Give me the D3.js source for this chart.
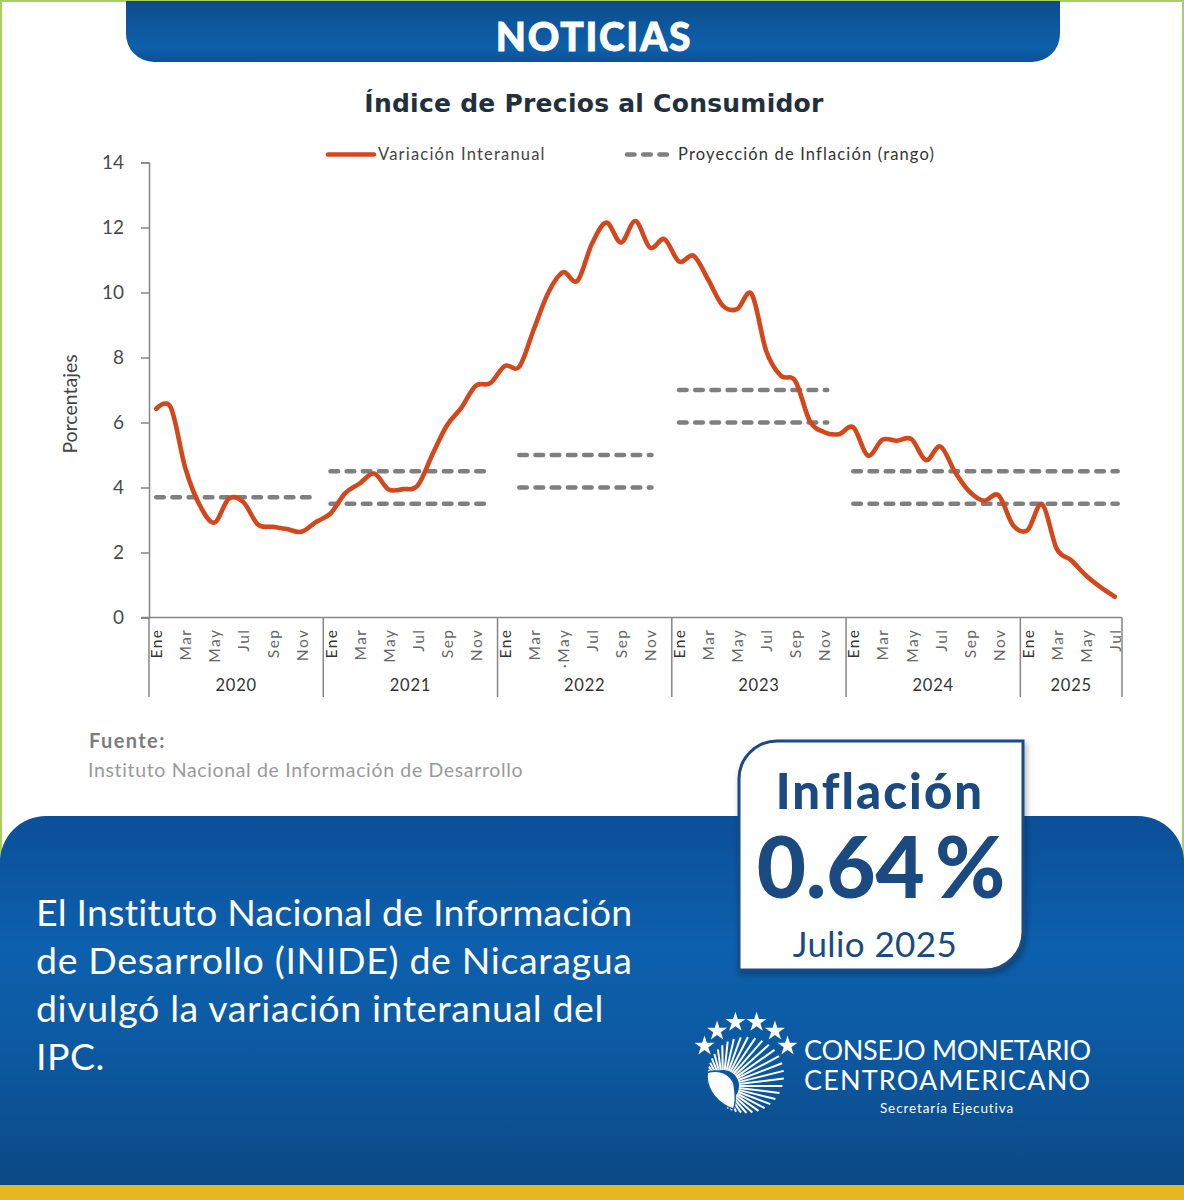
<!DOCTYPE html>
<html>
<head>
<meta charset="utf-8">
<title>Índice de Precios al Consumidor</title>
<script src="https://cdn.jsdelivr.net/npm/d3@7"></script>
<style>
	html, body { margin: 0; padding: 0; background: #fff; }
	svg { display: block; }
	text { font-family: Lato, "Open Sans", sans-serif; }
</style>
</head>
<body>
<div id="chart"></div>
<script>
// monthly values, Ene 2020 to Jul 2025
var values2020 = [6.42, 6.46, 4.6, 3.45, 2.92, 3.66, 3.55, 2.86, 2.79, 2.72, 2.64, 2.94];
var values2021 = [3.2, 3.82, 4.12, 4.43, 3.94, 3.95, 4.06, 5.0, 5.9, 6.45, 7.13, 7.21];
var values2022 = [7.74, 7.72, 8.87, 10.0, 10.62, 10.36, 11.5, 12.15, 11.54, 12.2, 11.38, 11.64];
var values2023 = [10.95, 11.13, 10.4, 9.6, 9.49, 9.95, 8.2, 7.44, 7.28, 6.05, 5.7, 5.64];
var values2024 = [5.85, 4.98, 5.47, 5.44, 5.49, 4.84, 5.26, 4.48, 3.87, 3.59, 3.76, 2.84];
var values2025 = [2.69, 3.49, 2.12, 1.76, 1.3, 0.94, 0.64];
var inflation = values2020.concat(values2021, values2022, values2023, values2024, values2025);

var years = ["2020", "2021", "2022", "2023", "2024", "2025"];
var yearStart = [0, 12, 24, 36, 48, 60, 67];
var monthLabels = ["Ene", "Mar", "May", "Jul", "Sep", "Nov"];
var yTicks = [0, 2, 4, 6, 8, 10, 12, 14];

// projection range segments: first month, last month, value
var projFrom = [0, 12, 12, 25, 25, 36, 36, 48, 48];
var projTo = [10.7, 22.8, 22.8, 34.1, 34.1, 46.2, 46.2, 66.2, 66.2];
var projValue = [3.7, 3.5, 4.5, 4, 5, 6, 7, 3.5, 4.5];

var bodyLines = ["El Instituto Nacional de Información", "de Desarrollo (INIDE) de Nicaragua", "divulgó la variación interanual del", "IPC."];

var width = 1184, height = 1200;
var orange = "#d2481c", grey = "#7f7f7f", axisGrey = "#868686", navy = "#1a4a80";

var svg = d3.select("#chart").append("svg")
	.attr("width", width)
	.attr("height", height);

var defs = svg.append("defs");

function gradient(id, stops) {
	var g = defs.append("linearGradient").attr("id", id)
		.attr("x1", 0).attr("x2", 0).attr("y1", 0).attr("y2", 1);
	stops.forEach(function(s) {
		g.append("stop").attr("offset", s[0]).attr("stop-color", s[1]);
	});
}
gradient("headBlue", [[0, "#0d4c8c"], [0.75, "#0d60ab"], [1, "#0b5199"]]);
gradient("panelBlue", [[0, "#0b4f98"], [0.35, "#0c60ad"], [0.6, "#0c5aa3"], [1, "#0c4985"]]);

var shadow = defs.append("filter").attr("id", "soft")
	.attr("x", "-10%").attr("y", "-10%").attr("width", "120%").attr("height", "120%");
shadow.append("feDropShadow").attr("dx", 2).attr("dy", 3).attr("stdDeviation", 3)
	.attr("flood-color", "#000").attr("flood-opacity", 0.3);

// page frame, green hairline
svg.append("path")
	.attr("d", "M1,970V1H1183V970")
	.attr("fill", "none")
	.attr("stroke", "#a9d05c")
	.attr("stroke-width", 2);

// header
svg.append("path")
	.attr("d", "M126,1H1060V34A28,28 0 0 1 1032,62H154A28,28 0 0 1 126,34Z")
	.attr("fill", "url(#headBlue)");
svg.append("text")
	.attr("x", 594).attr("y", 51)
	.attr("text-anchor", "middle")
	.attr("fill", "#fff")
	.attr("stroke", "#fff")
	.attr("stroke-width", 0.8)
	.attr("font-size", 39)
	.attr("font-weight", 900)
	.attr("letter-spacing", 1.7)
	.text("NOTICIAS");

// title
svg.append("text")
	.attr("x", 594).attr("y", 112)
	.attr("text-anchor", "middle")
	.attr("fill", "#22303e")
	.attr("font-size", 25)
	.attr("font-weight", 700)
	.attr("letter-spacing", 0.25)
	.style("font-family", "'DejaVu Sans', sans-serif")
	.text("Índice de Precios al Consumidor");

// scales
var x = d3.scaleLinear().domain([-0.5, 66.5]).range([149, 1122]);
var y = d3.scaleLinear().domain([0, 14]).range([617.5, 162.5]);

var yAxis = svg.append("g")
	.attr("transform", "translate(149,0)")
	.call(d3.axisLeft(y).tickValues(yTicks).tickSize(8).tickPadding(17).tickFormat(d3.format("d")));
yAxis.selectAll("path, line").attr("stroke", axisGrey).attr("stroke-width", 1.5);
yAxis.selectAll("text")
	.attr("fill", "#4a4a4a")
	.style("font-size", "19px")
	.style("font-family", "Lato, sans-serif");

svg.append("text")
	.attr("transform", "translate(77,404) rotate(-90)")
	.attr("text-anchor", "middle")
	.attr("fill", "#444")
	.attr("font-size", 19.5)
	.text("Porcentajes");

// x axis: a label every two months, years below
var monthTicks = d3.range(0, 67, 2);
var xAxis = svg.append("g")
	.attr("transform", "translate(0,617.5)")
	.call(d3.axisBottom(x).tickValues(monthTicks).tickSize(0).tickFormat(function(d) {
		return d == 28 ? "·May" : monthLabels[(d % 12) / 2];
	}));
xAxis.select("path").remove();
xAxis.selectAll("text")
	.attr("transform", "rotate(-90)")
	.attr("x", -11)
	.attr("y", 0)
	.attr("dy", "0.36em")
	.attr("text-anchor", "end")
	.attr("fill", function(d) { return d % 12 == 0 ? "#333" : "#666"; })
	.style("font-size", "15.5px")
	.style("font-family", "Lato, sans-serif")
	.style("letter-spacing", "1.5px");

svg.append("line")
	.attr("x1", 141).attr("x2", 1122)
	.attr("y1", 617.5).attr("y2", 617.5)
	.attr("stroke", axisGrey).attr("stroke-width", 1.5);

svg.selectAll(".divider")
	.data(yearStart)
	.enter().append("line")
	.attr("class", "divider")
	.attr("x1", function(d) { return x(d - 0.5); })
	.attr("x2", function(d) { return x(d - 0.5); })
	.attr("y1", 617.5)
	.attr("y2", 697)
	.attr("stroke", axisGrey)
	.attr("stroke-width", 1.5);

svg.selectAll(".year")
	.data(years)
	.enter().append("text")
	.attr("class", "year")
	.attr("x", function(d, i) { return (x(yearStart[i] - 0.5) + x(yearStart[i + 1] - 0.5)) / 2; })
	.attr("y", 691)
	.attr("text-anchor", "middle")
	.attr("fill", "#333")
	.attr("font-size", 16.5)
	.attr("letter-spacing", 0.8)
	.text(function(d) { return d; });

// projection segments go under the series
svg.selectAll(".proj")
	.data(projValue)
	.enter().append("line")
	.attr("class", "proj")
	.attr("x1", function(d, i) { return x(projFrom[i]); })
	.attr("x2", function(d, i) { return x(projTo[i]); })
	.attr("y1", function(d) { return y(d); })
	.attr("y2", function(d) { return y(d); })
	.attr("stroke", grey)
	.attr("stroke-width", 4.6)
	.attr("stroke-linecap", "round")
	.attr("stroke-dasharray", "7.5 8.7");

var line = d3.line()
	.x(function(d, i) { return x(i); })
	.y(function(d) { return y(d); })
	.curve(d3.curveCatmullRom.alpha(0));

svg.append("path")
	.datum(inflation)
	.attr("d", line)
	.attr("fill", "none")
	.attr("stroke", orange)
	.attr("stroke-width", 4.6)
	.attr("stroke-linecap", "round");

// legend
svg.append("line")
	.attr("x1", 328).attr("x2", 374).attr("y1", 154.5).attr("y2", 154.5)
	.attr("stroke", orange).attr("stroke-width", 4.6).attr("stroke-linecap", "round");
svg.append("text")
	.attr("x", 378).attr("y", 160)
	.attr("fill", "#444").attr("font-size", 16.5).attr("letter-spacing", 1.2)
	.text("Variación Interanual");
svg.append("line")
	.attr("x1", 627).attr("x2", 670).attr("y1", 154.5).attr("y2", 154.5)
	.attr("stroke", grey).attr("stroke-width", 4.6).attr("stroke-linecap", "round")
	.attr("stroke-dasharray", "7.5 8.7");
svg.append("text")
	.attr("x", 678).attr("y", 160)
	.attr("fill", "#333").attr("font-size", 16.5).attr("letter-spacing", 1.15)
	.text("Proyección de Inflación (rango)");

// source
svg.append("text")
	.attr("x", 89).attr("y", 748)
	.attr("fill", "#7d7d7d").attr("font-size", 20).attr("font-weight", 700).attr("letter-spacing", 1.4)
	.text("Fuente:");
svg.append("text")
	.attr("x", 88).attr("y", 777)
	.attr("fill", "#9a9a9a").attr("font-size", 19.5).attr("letter-spacing", 0.65)
	.text("Instituto Nacional de Información de Desarrollo");

// bottom panel and gold strip
svg.append("path")
	.attr("d", "M0,1186V862A46,46 0 0 1 46,816H1138A46,46 0 0 1 1184,862V1186Z")
	.attr("fill", "url(#panelBlue)");
svg.append("rect")
	.attr("x", 0).attr("y", 1185).attr("width", width).attr("height", 15)
	.attr("fill", "#e8b71f");

svg.selectAll(".body")
	.data(bodyLines)
	.enter().append("text")
	.attr("class", "body")
	.attr("x", 36)
	.attr("y", function(d, i) { return 926 + i * 48; })
	.attr("fill", "#fff")
	.attr("font-size", 37.5)
	.attr("letter-spacing", function(d, i) { return [0.22, 0.65, 0.62, 0.5][i]; })
	.text(function(d) { return d; });

// inflation box
svg.append("path")
	.attr("d", "M739,780A38,38 0 0 1 777,741H1023V932A38,38 0 0 1 985,970H739Z")
	.attr("fill", "#fff")
	.attr("stroke", navy)
	.attr("stroke-width", 3)
	.attr("filter", "url(#soft)");
svg.append("text")
	.attr("x", 880).attr("y", 809)
	.attr("text-anchor", "middle")
	.attr("fill", navy).attr("font-size", 49).attr("font-weight", 900).attr("letter-spacing", 2.1)
	.text("Inflación");
svg.append("text")
	.attr("x", 881).attr("y", 898)
	.attr("text-anchor", "middle")
	.attr("fill", navy).attr("font-size", 85).attr("font-weight", 900).attr("word-spacing", -10)
	.text("0.64 %");
svg.append("text")
	.attr("x", 875).attr("y", 957)
	.attr("text-anchor", "middle")
	.attr("fill", navy).attr("font-size", 35).attr("letter-spacing", 0.4)
	.text("Julio 2025");

// logo: stars, fan of rays, white leaf
var logo = svg.append("g").attr("class", "logo");
var starAngles = [-62, -38, -13, 13, 38, 62];
var star = d3.symbol().type(d3.symbolStar).size(125);
logo.selectAll(".star")
	.data(starAngles)
	.enter().append("path")
	.attr("class", "star")
	.attr("d", star)
	.attr("fill", "#fff")
	.attr("transform", function(d) {
		var a = d * Math.PI / 180;
		return "translate(" + (746 + 47 * Math.sin(a)) + "," + (1068 - 47 * Math.cos(a)) + ")";
	});

var rayAngles = d3.range(-78, 172, 7);
logo.selectAll(".ray")
	.data(rayAngles)
	.enter().append("line")
	.attr("class", "ray")
	.each(function(d) {
		// ray from the leaf out to the rim of the fan circle
		var a = d * Math.PI / 180, ox = 723, oy = 1086, cx = 746, cy = 1075, r = 38;
		var dx = Math.sin(a), dy = -Math.cos(a);
		var b = dx * (ox - cx) + dy * (oy - cy);
		var c = (ox - cx) * (ox - cx) + (oy - cy) * (oy - cy) - r * r;
		var t = -b + Math.sqrt(b * b - c);
		d3.select(this)
			.attr("x1", ox + dx * 16).attr("y1", oy + dy * 16)
			.attr("x2", ox + dx * t).attr("y2", oy + dy * t);
	})
	.attr("stroke", "#fff")
	.attr("stroke-width", 2);
logo.append("path")
	.attr("d", "M708,1073C718,1070 728,1073 733,1083C735,1095 735,1103 733,1108C720,1104 706,1090 708,1073Z")
	.attr("fill", "#fff")
	.attr("stroke", "#0c5aa3")
	.attr("stroke-width", 3)
	.attr("paint-order", "stroke");

svg.append("text")
	.attr("x", 804).attr("y", 1060)
	.attr("fill", "#fff").attr("font-size", 27).attr("letter-spacing", -0.27)
	.text("CONSEJO MONETARIO");
svg.append("text")
	.attr("x", 804).attr("y", 1090)
	.attr("fill", "#fff").attr("font-size", 27).attr("letter-spacing", 1.15)
	.text("CENTROAMERICANO");
svg.append("text")
	.attr("x", 947).attr("y", 1113)
	.attr("text-anchor", "middle")
	.attr("fill", "#fff").attr("font-size", 13.5).attr("letter-spacing", 0.9)
	.text("Secretaría Ejecutiva");
</script>
</body>
</html>
